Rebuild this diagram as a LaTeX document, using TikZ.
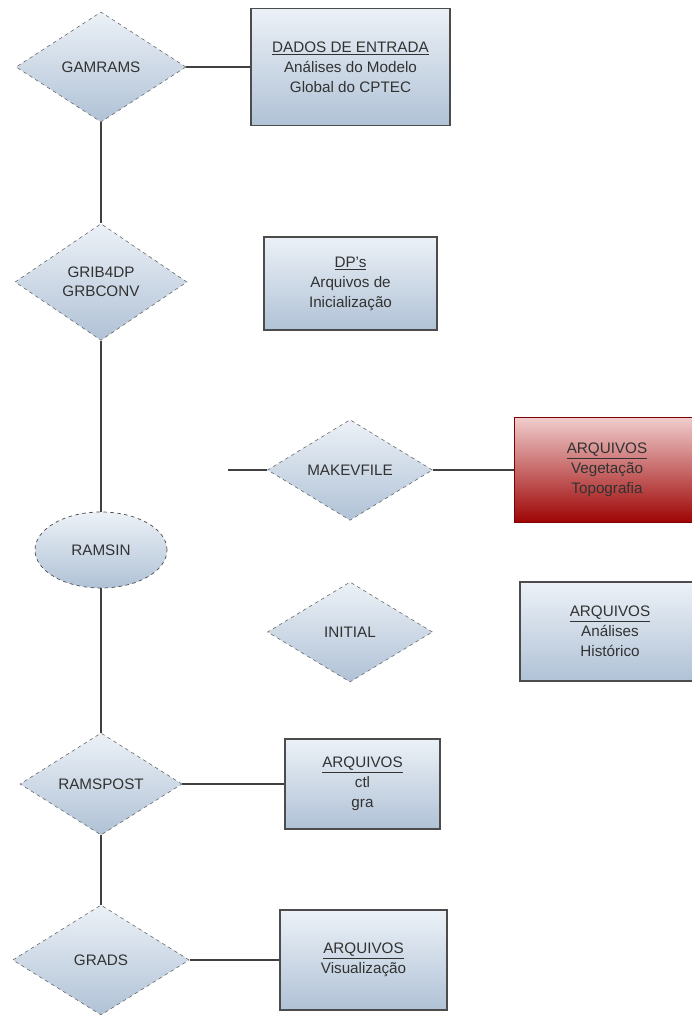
\documentclass[tikz,border=0pt]{standalone}
\usepackage{fontspec}
\setmainfont{Liberation Sans}
\usetikzlibrary{shapes.geometric}

\definecolor{boxtop}{RGB}{236,241,247}
\definecolor{boxbot}{RGB}{176,194,214}
\definecolor{redtop}{RGB}{240,205,205}
\definecolor{redbot}{RGB}{158,4,4}
\definecolor{txt}{RGB}{50,50,50}

\begin{document}
\begin{tikzpicture}[x=0.3mm,y=-0.3mm,
  proc/.style={diamond,draw=gray!80!black,dashed,line width=0.5pt,top color=boxtop,bottom color=boxbot,
    inner sep=1pt,align=center,text=txt,font=\fontsize{13}{16}\selectfont},
  arq/.style={rectangle,draw=black!70,line width=1.5pt,top color=boxtop,bottom color=boxbot,
    inner sep=2pt,align=center,text=txt,font=\fontsize{13}{17}\selectfont},
  lig/.style={draw=black!75,line width=1.5pt}]
\useasboundingbox (0,0) rectangle (691,1015);
\node[proc,minimum width=51mm,minimum height=33mm] (gam) at (101,67) {GAMRAMS};
\node[proc,minimum width=51.6mm,minimum height=35mm] (grib) at (101,282) {GRIB4DP\\GRBCONV};
\node[ellipse,draw=black!70,dashed,line width=0.6pt,top color=boxtop,bottom color=boxbot,text=txt,
  font=\fontsize{13}{16}\selectfont,minimum width=39.6mm,minimum height=22.8mm] (ramsin) at (101,550) {RAMSIN};
\node[proc,minimum width=49.5mm,minimum height=30mm] (makev) at (350,470) {MAKEVFILE};
\node[proc,minimum width=49.5mm,minimum height=30mm] (initial) at (350,632) {INITIAL};
\node[proc,minimum width=48.6mm,minimum height=30.6mm] (post) at (101,784) {RAMSPOST};
\node[proc,minimum width=53mm,minimum height=33mm] (grads) at (101,960) {GRADS};
\node[arq,minimum width=59.7mm,minimum height=35.1mm] (dados) at (350.5,67)
  {\underline{DADOS DE ENTRADA}\\Análises do Modelo\\Global do CPTEC};
\node[arq,minimum width=51.9mm,minimum height=27.9mm] (dps) at (350.5,283.5)
  {\underline{DP's}\\Arquivos de\\Inicialização};
\node[arq,draw=red!50!black,top color=redtop,bottom color=redbot,minimum width=55.5mm,minimum height=31.5mm]
  (veg) at (607,470) {\underline{ARQUIVOS}\\Vegetação\\Topografia};
\node[arq,minimum width=54mm,minimum height=29.7mm] (hist) at (610,631.5)
  {\underline{ARQUIVOS}\\Análises\\Histórico};
\node[arq,minimum width=46.5mm,minimum height=27mm] (ctl) at (362.5,784)
  {\underline{ARQUIVOS}\\ctl\\gra};
\node[arq,minimum width=50.1mm,minimum height=30mm] (vis) at (363.5,960)
  {\underline{ARQUIVOS}\\Visualização};
\coordinate (mk) at (228,470);
\foreach \from/\to in {gam/dados,gam/grib,grib/ramsin,ramsin/post,post/ctl,post/grads,grads/vis,mk/makev,makev/veg}
\draw[lig] (\from) -- (\to);
\end{tikzpicture}
\end{document}
